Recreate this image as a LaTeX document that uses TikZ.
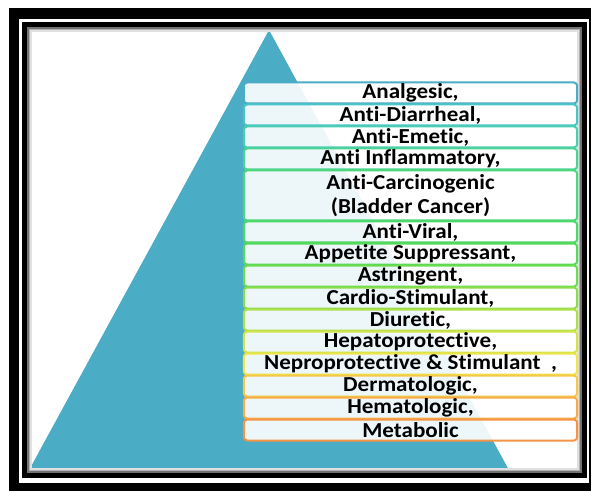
\documentclass[tikz,border=0pt]{standalone}
\usepackage{fontspec}
\setmainfont{Carlito}[FakeStretch=1.08, RawFeature=-liga]
\definecolor{pyramid}{HTML}{4BACC6}
\definecolor{cA}{HTML}{4BACC6}
\definecolor{cB}{HTML}{4BC4C9}
\definecolor{cC}{HTML}{4BCDB2}
\definecolor{cD}{HTML}{4BD395}
\definecolor{cE}{HTML}{4CD77E}
\definecolor{cF}{HTML}{4DD86A}
\definecolor{cG}{HTML}{55D95A}
\definecolor{cH}{HTML}{6CDB4F}
\definecolor{cI}{HTML}{8BDD4C}
\definecolor{cJ}{HTML}{AFE04A}
\definecolor{cK}{HTML}{D2E34A}
\definecolor{cL}{HTML}{EEE44B}
\definecolor{cM}{HTML}{F5C849}
\definecolor{cN}{HTML}{F5AD47}
\definecolor{cO}{HTML}{F59445}
\tikzset{
  effect/.style={draw=#1, line width=1.5pt, rounded corners=2.5pt,
    fill=white, fill opacity=0.9, text opacity=1, text=black,
    minimum width=250pt, minimum height=15.75pt, inner sep=0pt,
    font=\fontsize{16}{18}\selectfont\bfseries, align=center},
  bigeffect/.style={effect=#1, minimum height=37.5pt}
}
\begin{document}
\begin{tikzpicture}[x=0.75pt,y=-0.75pt]
\useasboundingbox (0,0) rectangle (591,491);
% frame
\begin{scope}
\clip (0,0) rectangle (591,491);
\fill[black] (9,8) rectangle (600,500);
\fill[white] (19,19) rectangle (589,483);
\fill[black] (22,22) rectangle (587,478);
\fill[white] (27,27) rectangle (582,473);
\end{scope}
% pyramid
\fill[pyramid] (269,30) -- (510,472) -- (28,472) -- cycle;
% inner shadow
\draw[black!55, line width=1.2pt] (27.8,27.8) rectangle (581.2,472.2);
\draw[black!30, line width=1pt] (29.5,29.5) rectangle (579.5,470.5);
\draw[black!12, line width=1pt] (31,31) rectangle (578,469);
% effects
\node[effect=cA] (analgesic) at (410.5,93) {Analgesic,};
\node[effect=cB] (diarrheal) at (410.5,115) {Anti-Diarrheal,};
\node[effect=cC] (emetic) at (410.5,137) {Anti-Emetic,};
\node[effect=cD] (inflam) at (410.5,159) {Anti Inflammatory,};
\node[bigeffect=cE] (carcino) at (410.5,195.5) {Anti-Carcinogenic\\(Bladder Cancer)};
\node[effect=cF] (viral) at (410.5,232) {Anti-Viral,};
\node[effect=cG] (appetite) at (410.5,254) {Appetite Suppressant,};
\node[effect=cH] (astringent) at (410.5,276) {Astringent,};
\node[effect=cI] (cardio) at (410.5,298) {Cardio-Stimulant,};
\node[effect=cJ] (diuretic) at (410.5,320) {Diuretic,};
\node[effect=cK] (hepato) at (410.5,342) {Hepatoprotective,};
\node[effect=cL] (nepro) at (410.5,364) {Neproprotective \& Stimulant~~,};
\node[effect=cM] (dermato) at (410.5,386) {Dermatologic,};
\node[effect=cN] (hemato) at (410.5,408) {Hematologic,};
\node[effect=cO] (metabolic) at (410.5,430) {Metabolic};
\end{tikzpicture}
\end{document}
